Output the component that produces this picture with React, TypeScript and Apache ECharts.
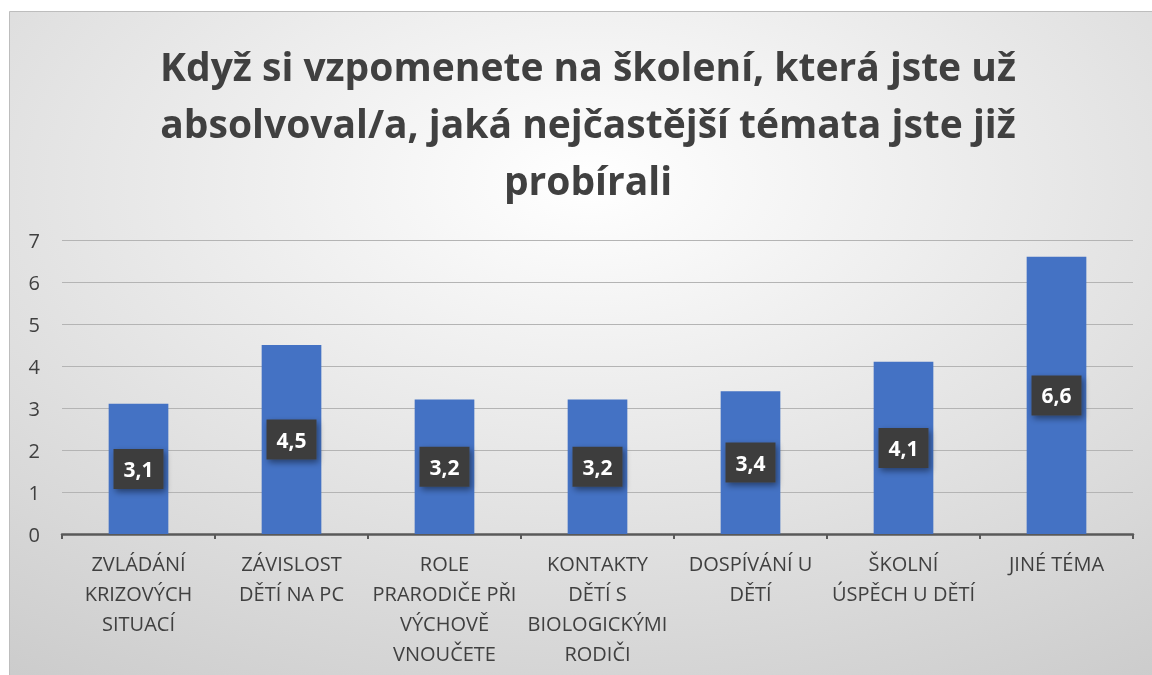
import React, { useEffect, useRef } from "react";
import * as echarts from "echarts";

const titleText =
  "Když si vzpomenete na školení, která jste už\nabsolvoval/a, jaká nejčastější témata jste již\nprobírali";

const categories = [
  "ZVLÁDÁNÍ\nKRIZOVÝCH\nSITUACÍ",
  "ZÁVISLOST\nDĚTÍ NA PC",
  "ROLE\nPRARODIČE PŘI\nVÝCHOVĚ\nVNOUČETE",
  "KONTAKTY\nDĚTÍ S\nBIOLOGICKÝMI\nRODIČI",
  "DOSPÍVÁNÍ U\nDĚTÍ",
  "ŠKOLNÍ\nÚSPĚCH U DĚTÍ",
  "JINÉ TÉMA",
];

const values = [3.1, 4.5, 3.2, 3.2, 3.4, 4.1, 6.6];

const yMin = 0;
const yMax = 7;
const yInterval = 1;

export default function App() {
  const ref = useRef<HTMLDivElement>(null);

  useEffect(() => {
    if (!ref.current) return;
    const chart = echarts.init(ref.current, null, { renderer: "svg" });
    const font = "'Open Sans', 'Noto Sans', sans-serif";
    chart.setOption({
      animation: false,
      backgroundColor: "transparent",
      graphic: [
        {
          type: "rect",
          z: -100,
          silent: true,
          shape: { x: 9.5, y: 11.5, width: 1160, height: 680 },
          style: {
            fill: new echarts.graphic.RadialGradient(0.5, 0.25, 1.05, [
              { offset: 0, color: "#ffffff" },
              { offset: 1, color: "#c2c2c2" },
            ]),
            stroke: "#bdbdbd",
            lineWidth: 1,
          },
        },
        {
          type: "text",
          z: 10,
          x: 588,
          y: 37,
          style: {
            text: titleText,
            fill: "#404040",
            fontFamily: font,
            fontWeight: "bold",
            fontSize: 39,
            lineHeight: 57,
            align: "center",
            verticalAlign: "top",
          },
        },
      ],
      grid: {
        left: 62,
        right: 19,
        top: 240,
        bottom: 141,
        containLabel: false,
      },
      xAxis: {
        type: "category",
        data: categories,
        axisLine: { show: true, lineStyle: { color: "#595959", width: 2.5 } },
        axisTick: { show: true, length: 5, lineStyle: { color: "#595959", width: 2 } },
        axisLabel: {
          interval: 0,
          margin: 14,
          color: "#404040",
          fontFamily: font,
          fontSize: 20,
          lineHeight: 30,
          verticalAlign: "top",
        },
      },
      yAxis: {
        type: "value",
        min: yMin,
        max: yMax,
        interval: yInterval,
        axisLine: { show: false },
        axisTick: { show: false },
        axisLabel: {
          margin: 22,
          color: "#404040",
          fontFamily: font,
          fontSize: 20,
        },
        splitLine: { lineStyle: { color: "#b4b4b4", width: 1.2 } },
      },
      series: [
        {
          type: "bar",
          data: values,
          barWidth: "39%",
          itemStyle: { color: "#4472C4" },
          label: {
            show: true,
            position: "inside",
            formatter: (p: any) => Number(p.value).toFixed(1).replace(".", ","),
            color: "#ffffff",
            fontFamily: font,
            fontWeight: "bold",
            fontSize: 21,
            lineHeight: 22,
            backgroundColor: "#3c3c3c",
            padding: [9, 10, 9, 10],
            shadowBlur: 6,
            shadowColor: "rgba(0,0,0,0.45)",
            shadowOffsetX: 2,
            shadowOffsetY: 3,
          },
        },
      ],
    });
    return () => chart.dispose();
  }, []);

  return (
    <div
      ref={ref}
      style={{ position: "fixed", left: 0, top: 0, width: 1152, height: 675 }}
    />
  );
}
